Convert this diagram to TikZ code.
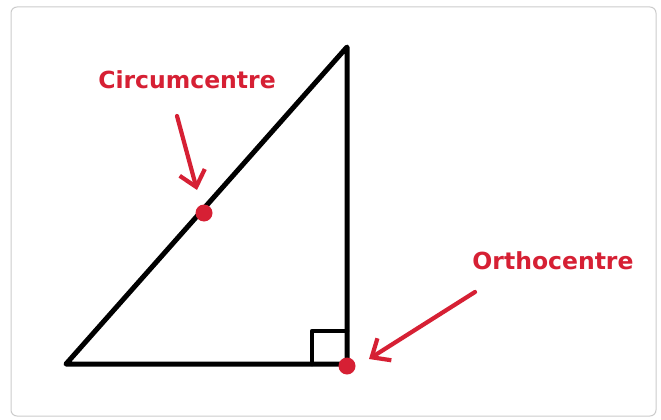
\documentclass[tikz,border=0pt]{standalone}
\usepackage{fontspec}
\setmainfont{DejaVu Sans}
\usetikzlibrary{arrows.meta}
\definecolor{myred}{RGB}{214,32,52}
\tikzset{
  side/.style={line width=5pt,line cap=round,line join=round,black},
  dotnode/.style={circle,fill=myred,inner sep=0pt,minimum size=17pt},
  lbl/.style={text=myred,font=\fontsize{23.5}{26}\selectfont\bfseries,inner sep=0pt},
  pointer/.style={line width=4.2pt,myred,line cap=round,-{Straight Barb[length=15pt,width=26pt,line width=4.2pt]}},
  frame/.style={draw=black!20,line width=1pt,rounded corners=6pt}
}
\begin{document}
\begin{tikzpicture}[x=1pt,y=-1pt]
\useasboundingbox (0,0) rectangle (661,420);
\fill[white] (0,0) rectangle (661,420);
\draw[frame] (11,7) rectangle (656,416);
% triangle
\coordinate (A) at (66,364);
\coordinate (B) at (347,364);
\coordinate (C) at (347,47);
\draw[side] (A) -- (B) -- (C) -- cycle;
% right angle mark
\coordinate (R1) at (312,364);
\coordinate (R2) at (312,331);
\coordinate (R3) at (347,331);
\draw[side,line width=4.5pt] (R1) -- (R2) -- (R3);
% points
\node[dotnode] (circ) at (204,213) {};
\node[dotnode] (orth) at (347,366) {};
% labels
\node[lbl] (lc) at (187,80) {Circumcentre};
\node[lbl] (lo) at (553,261) {Orthocentre};
% arrows
\coordinate (cs) at (177,116);
\coordinate (ce) at (197,190);
\draw[pointer] (cs) -- (ce);
\coordinate (os) at (475,292);
\coordinate (oe) at (369,359);
\draw[pointer] (os) -- (oe);
\end{tikzpicture}
\end{document}
